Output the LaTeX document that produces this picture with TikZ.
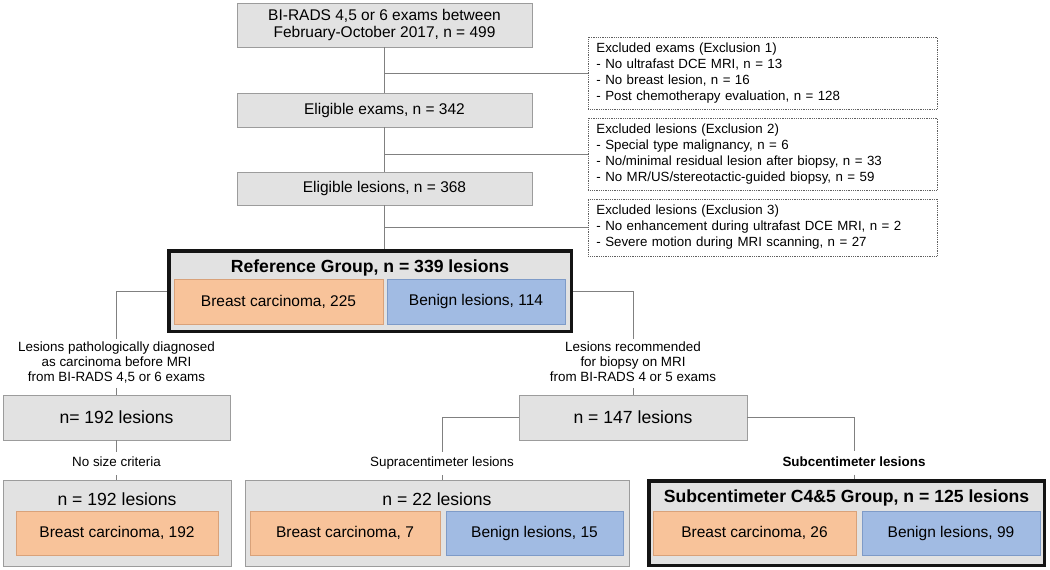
\documentclass[tikz,border=0pt]{standalone}
\usepackage{fontspec}
\setmainfont{Liberation Sans}
\definecolor{grayfill}{HTML}{E2E2E2}
\definecolor{graybd}{HTML}{9C9C9C}
\definecolor{orangefill}{HTML}{F8C39A}
\definecolor{orangebd}{HTML}{D9A27A}
\definecolor{bluefill}{HTML}{A1BBE3}
\definecolor{bluebd}{HTML}{7E9BC8}
\definecolor{linegray}{HTML}{808080}
\definecolor{xbd}{HTML}{606060}
\newcommand{\fmain}{\fontsize{15.5}{17}\selectfont}
\newcommand{\fbig}{\fontsize{17.6}{20}\selectfont}
\newcommand{\fexcl}{\fontsize{13.3}{16}\selectfont}
\newcommand{\flab}{\fontsize{13.4}{15}\selectfont}
\begin{document}
\begin{tikzpicture}[x=1pt,y=-1pt,
  gbox/.style={draw=graybd, fill=grayfill, line width=0.9pt, inner sep=0pt, align=center, font=\fmain},
  obox/.style={draw=orangebd, fill=orangefill, line width=0.9pt, inner sep=0pt, font=\fmain},
  bbox/.style={draw=bluebd, fill=bluefill, line width=0.9pt, inner sep=0pt, font=\fmain},
  xbox/.style={draw=xbd, densely dotted, line width=0.8pt, fill=white, anchor=west, text width=333pt, inner xsep=8pt, inner ysep=0pt, align=left, font=\fexcl},
  heavy/.style={draw=black!92, line width=3.5pt, fill=grayfill, inner sep=0pt},
  conn/.style={draw=linegray, line width=1pt},
  lab/.style={inner xsep=0pt, inner ysep=2pt, align=center, font=\flab},
  lab1/.style={inner xsep=0pt, inner ysep=4pt, font=\flab}
]
\useasboundingbox (0,0) rectangle (1050,570);

% top column
\node[gbox, minimum width=295pt, minimum height=44pt] (top) at (384.5,25) {BI-RADS 4,5 or 6 exams between\\February-October 2017, n = 499};
\node[gbox, minimum width=295pt, minimum height=34pt] (exams) at (384.5,110) {Eligible exams, n = 342};
\node[gbox, minimum width=295pt, minimum height=33pt] (lesions) at (384.5,188.5) {Eligible lesions, n = 368};

% exclusion boxes
\node[xbox, minimum height=72pt] (x1) at (588,73) {Excluded exams (Exclusion 1)\\- No ultrafast DCE MRI, n = 13\\- No breast lesion, n = 16\\- Post chemotherapy evaluation, n = 128};
\node[xbox, minimum height=72pt] (x2) at (588,154) {Excluded lesions (Exclusion 2)\\- Special type malignancy, n = 6\\- No/minimal residual lesion after biopsy, n = 33\\- No MR/US/stereotactic-guided biopsy, n = 59};
\node[xbox, minimum height=57pt] (x3) at (588,227.5) {Excluded lesions (Exclusion 3)\\- No enhancement during ultrafast DCE MRI, n = 2\\- Severe motion during MRI scanning, n = 27};

% reference group
\node[heavy, minimum width=402.5pt, minimum height=80.5pt] (ref) at (370,291) {};
\node[font=\fbig\bfseries, inner sep=0pt] (reft) at (370,268) {Reference Group, n = 339 lesions};
\node[obox, minimum width=209pt, minimum height=45pt] (refca) at (278.5,301.5) {Breast carcinoma, 225};
\node[bbox, minimum width=178pt, minimum height=45pt] (refbe) at (476,301.5) {Benign lesions, 114};

% branch labels
\node[lab] (labL) at (116.5,363.5) {\strut Lesions pathologically diagnosed\\\strut as carcinoma before MRI\\\strut from BI-RADS 4,5 or 6 exams};
\node[lab] (labR) at (633,363.5) {\strut Lesions recommended\\\strut for biopsy on MRI\\\strut from BI-RADS 4 or 5 exams};

% middle boxes
\node[gbox, font=\fbig, minimum width=227pt, minimum height=45pt] (n192) at (116.5,417.5) {n= 192 lesions};
\node[gbox, font=\fbig, minimum width=228pt, minimum height=45pt] (n147) at (633,417.5) {n = 147 lesions};

% lower labels
\node[lab1] (labN) at (116.5,463.5) {\strut No size criteria};
\node[lab1] (labS) at (442,463.5) {\strut Supracentimeter lesions};
\node[lab1, font=\flab\bfseries] (labC) at (854,463) {\strut Subcentimeter lesions};

% bottom boxes
\node[gbox, minimum width=228pt, minimum height=86pt] (boxA) at (117,523) {};
\node[font=\fbig, inner sep=0pt] (boxAt) at (117,499) {n = 192 lesions};
\node[obox, minimum width=202pt, minimum height=44pt] (boxAca) at (117,533) {Breast carcinoma, 192};

\node[gbox, minimum width=384pt, minimum height=86pt] (boxB) at (437,523) {};
\node[font=\fbig, inner sep=0pt] (boxBt) at (437,499) {n = 22 lesions};
\node[obox, minimum width=190pt, minimum height=44pt] (boxBca) at (345,533) {Breast carcinoma, 7};
\node[bbox, minimum width=177pt, minimum height=44pt] (boxBbe) at (534.5,533) {Benign lesions, 15};

\node[heavy, minimum width=395.5pt, minimum height=84.5pt] (boxC) at (846.5,523) {};
\node[font=\fbig\bfseries, inner sep=0pt] (boxCt) at (846.5,498) {Subcentimeter C4\&5 Group, n = 125 lesions};
\node[obox, minimum width=203pt, minimum height=44pt] (boxCca) at (754.5,533) {Breast carcinoma, 26};
\node[bbox, minimum width=178pt, minimum height=44pt] (boxCbe) at (951,533) {Benign lesions, 99};

% connectors
\draw[conn] (top.south) -- (exams.north);
\draw[conn] (exams.south) -- (lesions.north);
\draw[conn] (lesions.south) -- (lesions.south |- ref.north);
\draw[conn] (top.south |- x1.west) -- (x1.west);
\draw[conn] (exams.south |- x2.west) -- (x2.west);
\draw[conn] (lesions.south |- x3.west) -- (x3.west);
\draw[conn] (ref.west) -| (labL.north);
\draw[conn] (ref.east) -| (labR.north);
\draw[conn] (labL.south) -- (labL.south |- n192.north);
\draw[conn] (labR.south) -- (labR.south |- n147.north);
\draw[conn] (n192.south) -- (labN.north);
\draw[conn] (labN.south) -- (labN.south |- boxA.north);
\draw[conn] (n147.west) -| (labS.north);
\draw[conn] (labS.south) -- (labS.south |- boxB.north);
\draw[conn] (n147.east) -| (labC.north);
\draw[conn] (labC.south) -- (labC.south |- boxC.north);
\end{tikzpicture}
\end{document}
